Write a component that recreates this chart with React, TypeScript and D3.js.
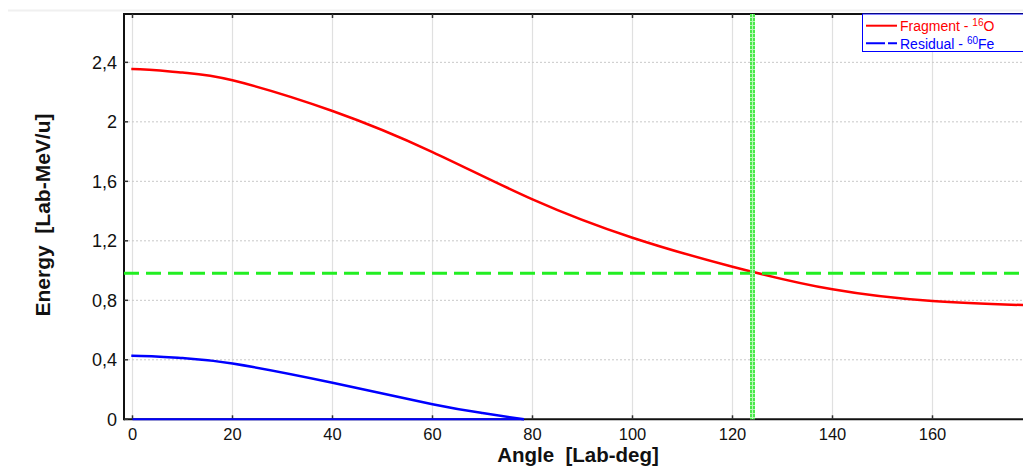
import React from 'react';
import * as d3 from 'd3';

// angles in lab degrees (curves are symmetric about 0, so -10 mirrors +10)
const fragAngles = [-10, 0, 10, 20, 40, 60, 80, 100, 120, 140, 160, 180];
const fragEnergy = [2.331, 2.355, 2.331, 2.279, 2.073, 1.797, 1.479, 1.221, 1.026, 0.874, 0.795, 0.766];

const resAngles = [-10, 0, 10, 20, 40, 60, 70, 78.3];
const resEnergy = [0.412, 0.428, 0.412, 0.375, 0.246, 0.101, 0.042, 0.0];
const resLowAngles = [0, 78.3];
const resLowEnergy = [0, 0];

const xTicks = [0, 20, 40, 60, 80, 100, 120, 140, 160];
const yTicks = [0, 0.4, 0.8, 1.2, 1.6, 2, 2.4];
const yTickLabels = ['0', '0,4', '0,8', '1,2', '1,6', '2', '2,4'];

const markerAngle = 124;
const markerEnergy = 0.982;

const W = 1023;
const H = 468;
const left = 124;
const top = 14;
const bottom = 419.3;

const App = () => {
  const x = d3.scaleLinear().domain([-1.7, 180]).range([left, left + 181.7 * 5]);
  const y = d3.scaleLinear().domain([0, 2.725]).range([bottom, top]);

  const line = d3.line<[number, number]>()
    .x(d => x(d[0]))
    .y(d => y(d[1]))
    .curve(d3.curveNatural);

  const frag = line(fragAngles.map((a, i) => [a, fragEnergy[i]]));
  const res = line(resAngles.map((a, i) => [a, resEnergy[i]]));
  const resLow = d3.line<[number, number]>().x(d => x(d[0])).y(d => y(d[1]))(resLowAngles.map((a, i) => [a, resLowEnergy[i]]));

  const font = '"Liberation Sans", Arial, sans-serif';
  const mx = x(markerAngle);
  const my = y(markerEnergy);
  const x0 = x(0) - 1.2;

  return (
    <svg width={W} height={H} style={{ position: 'absolute', left: 0, top: 0, background: '#fff' }} fontFamily={font}>
      <line x1={8} x2={W} y1={10.5} y2={10.5} stroke="#f0f0f0" strokeWidth={2} />
      <defs>
        <clipPath id="plot">
          <rect x={left} y={top} width={W - left} height={bottom - top + 2} />
        </clipPath>
        <clipPath id="curves">
          <rect x={x0} y={top} width={W - x0} height={bottom - top + 2} />
        </clipPath>
      </defs>

      {/* grid */}
      {xTicks.map(t => (
        <line key={'gx' + t} x1={x(t)} x2={x(t)} y1={top} y2={bottom} stroke="#e0e0e0" strokeWidth={1.2} />
      ))}
      {yTicks.filter(t => t > 0).map(t => (
        <line key={'gy' + t} x1={left} x2={W} y1={y(t)} y2={y(t)} stroke="#c8c8c8" strokeWidth={1} strokeDasharray="2,2" />
      ))}

      {/* frame */}
      <line x1={left} x2={W} y1={top} y2={top} stroke="#111" strokeWidth={2} />
      <line x1={left} x2={W} y1={bottom} y2={bottom} stroke="#111" strokeWidth={2} />
      <line x1={left} x2={left} y1={top - 1} y2={bottom + 1} stroke="#111" strokeWidth={2} />

      {/* ticks */}
      {xTicks.map(t => (
        <g key={'tx' + t}>
          <line x1={x(t)} x2={x(t)} y1={bottom - 4} y2={bottom} stroke="#333" strokeWidth={1.5} />
          <line x1={x(t)} x2={x(t)} y1={top} y2={top + 4} stroke="#333" strokeWidth={1.5} />
          <text x={x(t)} y={440} fontSize={16.5} textAnchor="middle" fill="#111">{t}</text>
        </g>
      ))}
      {yTicks.map((t, i) => (
        <g key={'ty' + t}>
          <line x1={left} x2={left + 4} y1={y(t)} y2={y(t)} stroke="#333" strokeWidth={1.5} />
          <text x={117} y={y(t)} dy="0.36em" fontSize={18} textAnchor="end" fill="#111">{yTickLabels[i]}</text>
        </g>
      ))}

      {/* curves */}
      <g clipPath="url(#curves)" fill="none">
        <path d={frag ?? ''} stroke="#ff0000" strokeWidth={2.5} />
        <path d={res ?? ''} stroke="#0000ff" strokeWidth={2.5} />
        <path d={resLow ?? ''} stroke="#0000ff" strokeWidth={2} />
      </g>
      <g clipPath="url(#plot)">
        <line x1={left} x2={W} y1={my} y2={my} stroke="#22ee22" strokeWidth={3} strokeDasharray="15,7" />
        <line x1={mx} x2={mx} y1={top} y2={bottom} stroke="#b8f8b8" strokeWidth={5} />
        <line x1={mx - 1.5} x2={mx - 1.5} y1={top} y2={bottom} stroke="#00e000" strokeWidth={1.2} strokeDasharray="3,1" />
        <line x1={mx + 1.5} x2={mx + 1.5} y1={top} y2={bottom} stroke="#00e000" strokeWidth={1.2} strokeDasharray="3,1" />
      </g>

      {/* axis titles */}
      <text x={578} y={462} fontSize={20.5} fontWeight="bold" textAnchor="middle" fill="#111" style={{ whiteSpace: 'pre' }}>
        {'Angle  [Lab-deg]'}
      </text>
      <text transform="translate(42,215) rotate(-90)" fontSize={21} fontWeight="bold" textAnchor="middle" dy="0.36em" fill="#111" style={{ whiteSpace: 'pre' }}>
        {'Energy  [Lab-MeV/u]'}
      </text>

      {/* legend */}
      <rect x={862.5} y={14} width={W - 862} height={37.5} fill="#fff" stroke="#0000ff" strokeWidth={1} />
      <line x1={866} x2={897} y1={25.7} y2={25.7} stroke="#ff0000" strokeWidth={2} />
      <text x={900} y={31} fontSize={14} fill="#ff0000">
        Fragment - <tspan fontSize={10} dy={-5}>16</tspan><tspan dy={5}>O</tspan>
      </text>
      <line x1={866} x2={897} y1={43.3} y2={43.3} stroke="#0000ff" strokeWidth={2} strokeDasharray="19,3" />
      <text x={900} y={48.5} fontSize={14} fill="#0000ff">
        Residual - <tspan fontSize={10} dy={-5}>60</tspan><tspan dy={5}>Fe</tspan>
      </text>
    </svg>
  );
};

export default App;
